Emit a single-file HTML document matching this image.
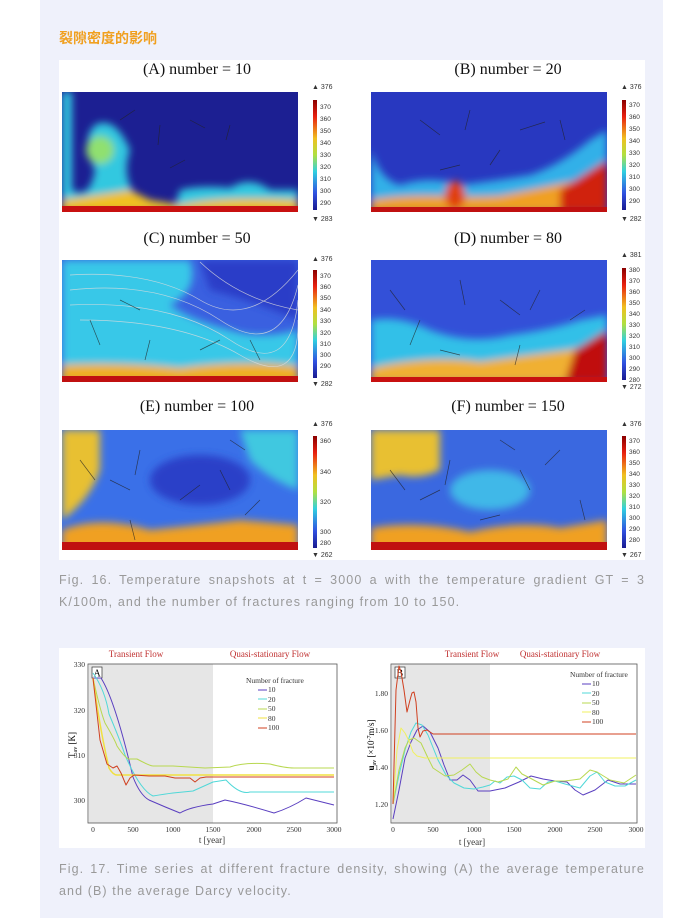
<!DOCTYPE html>
<html><head><meta charset="utf-8"><style>
body{margin:0;width:700px;height:918px;background:#fff;position:relative;overflow:hidden;font-family:"Liberation Sans","Noto Sans CJK SC",sans-serif}
.panel{position:absolute;left:40px;top:0;width:623px;height:918px;background:#eff1fb}
.t{position:absolute;left:59px;top:28px;color:#f0a020;font-size:14px;font-weight:bold}
.cap{position:absolute;left:59px;width:586px;color:#999;font-size:12.5px;letter-spacing:1.1px;line-height:22px;text-align:justify;text-align-last:left}
svg{position:absolute;left:0;top:0}
</style></head><body>
<div class="panel"></div>
<div class="t">裂隙密度的影响</div>
<svg width="700" height="918" font-family="Liberation Serif,serif">
<defs>
<filter id="b" x="-20%" y="-20%" width="140%" height="140%"><feGaussianBlur stdDeviation="4"/></filter>
<linearGradient id="cb" x1="0" y1="0" x2="0" y2="1"><stop offset="0" stop-color="#8a0000"/><stop offset=".15" stop-color="#e82010"/><stop offset=".35" stop-color="#f0c020"/><stop offset=".5" stop-color="#b0e040"/><stop offset=".65" stop-color="#30d0e0"/><stop offset=".85" stop-color="#3050e0"/><stop offset="1" stop-color="#1a1a90"/></linearGradient>
<clipPath id="cA"><rect x="62" y="92" width="236" height="120"/></clipPath>
<clipPath id="cB"><rect x="371" y="92" width="236" height="120"/></clipPath>
<clipPath id="cC"><rect x="62" y="260" width="236" height="122"/></clipPath>
<clipPath id="cD"><rect x="371" y="260" width="236" height="122"/></clipPath>
<clipPath id="cE"><rect x="62" y="430" width="236" height="120"/></clipPath>
<clipPath id="cF"><rect x="371" y="430" width="236" height="120"/></clipPath>
</defs>
<rect x="59" y="60" width="586" height="500" fill="#fff"/>
<rect x="59" y="648" width="586" height="200" fill="#fff"/>
<g font-size="16" text-anchor="middle" fill="#111">
<text x="197" y="74">(A) number = 10</text><text x="508" y="74">(B) number = 20</text>
<text x="197" y="243">(C) number = 50</text><text x="508" y="243">(D) number = 80</text>
<text x="197" y="411">(E) number = 100</text><text x="508" y="411">(F) number = 150</text>
</g>
<g clip-path="url(#cA)"><rect x="62" y="92" width="236" height="120" fill="#1c1f92"/>
<g filter="url(#b)"><path d="M62 92 H72 V190 Q90 200 95 170 Q80 140 95 125 Q115 115 130 150 Q120 180 140 200 L175 205 L180 190 Q200 185 230 188 Q250 175 270 190 L298 190 V212 H62Z" fill="#30c8e0"/>
<path d="M62 200 Q100 195 130 190 L150 200 L180 205 Q220 196 298 200 V212 H62Z" fill="#f0c020"/>
<circle cx="100" cy="150" r="14" fill="#90e070"/></g>
<rect x="62" y="206" width="236" height="6" fill="#c81010"/></g>
<g clip-path="url(#cB)"><rect x="371" y="92" width="236" height="120" fill="#2838c0"/>
<g filter="url(#b)"><path d="M371 150 Q380 180 400 185 Q430 175 460 185 Q500 180 530 175 Q560 165 590 140 L607 130 V212 H371Z" fill="#30b0e8"/>
<path d="M371 200 Q400 195 440 196 Q470 198 500 196 Q540 188 580 180 L607 175 V212 H371Z" fill="#f0a020"/>
<ellipse cx="455" cy="195" rx="10" ry="14" fill="#e04010"/>
<path d="M560 190 L607 160 V212 H560Z" fill="#d02010"/></g>
<rect x="371" y="207" width="236" height="5" fill="#c01010"/></g>
<g clip-path="url(#cC)"><rect x="62" y="260" width="236" height="122" fill="#3a60e0"/>
<g filter="url(#b)"><path d="M62 260 H190 Q200 290 170 305 Q190 320 230 330 Q260 340 298 330 V382 H62Z" fill="#38c8e8"/>
<path d="M200 260 H298 V320 Q250 300 210 290Z" fill="#2a3ec8"/>
<path d="M62 365 Q120 362 180 368 Q240 360 298 366 V382 H62Z" fill="#f0b020"/></g>
<rect x="62" y="376" width="236" height="6" fill="#c01010"/>
<g stroke="#ddd" stroke-width=".7" fill="none" opacity=".8"><path d="M70 275 Q150 270 200 300 T298 270"/><path d="M70 290 Q160 280 220 320 T298 285"/><path d="M70 305 Q170 300 230 340 T298 300"/><path d="M80 320 Q180 320 240 355 T298 320"/><path d="M200 262 Q240 300 298 310"/></g></g>
<g clip-path="url(#cD)"><rect x="371" y="260" width="236" height="122" fill="#3350d8"/>
<g filter="url(#b)"><path d="M371 320 Q400 315 430 330 Q470 345 510 335 Q550 330 580 320 L607 315 V382 H371Z" fill="#30c0e8"/>
<path d="M371 368 Q430 355 480 362 Q530 355 570 350 L607 340 V382 H371Z" fill="#f0b030"/>
<path d="M575 350 L607 330 V382 H565Z" fill="#c01010"/></g>
<rect x="371" y="377" width="236" height="5" fill="#c81010"/></g>
<g clip-path="url(#cE)"><rect x="62" y="430" width="236" height="120" fill="#3a70e8"/>
<g filter="url(#b)"><path d="M62 430 H100 V470 Q90 500 62 520Z" fill="#e8c030"/>
<ellipse cx="200" cy="480" rx="50" ry="25" fill="#2a40c8"/>
<path d="M240 430 H298 V490 Q270 480 250 460Z" fill="#40c8e0"/>
<path d="M62 530 Q100 515 150 530 Q200 525 240 520 L298 525 V550 H62Z" fill="#f0a020"/></g>
<rect x="62" y="542" width="236" height="8" fill="#c01010"/></g>
<g clip-path="url(#cF)"><rect x="371" y="430" width="236" height="120" fill="#3a68e0"/>
<g filter="url(#b)"><path d="M371 430 H440 V470 Q420 480 400 475 L371 480Z" fill="#e8c030"/>
<ellipse cx="490" cy="490" rx="40" ry="20" fill="#40b8e8"/>
<path d="M371 528 Q420 520 470 532 Q520 520 560 528 L607 520 V550 H371Z" fill="#f0a020"/></g>
<rect x="371" y="542" width="236" height="8" fill="#c01010"/></g>
<g stroke="#222" stroke-width=".7" opacity=".7">
<path d="M120 120l15-10M160 125l-2 20M190 120l15 8M230 125l-4 15M185 160l-15 8"/>
<path d="M420 120l20 15M470 110l-5 20M520 130l25-8M560 120l5 20M440 170l20-5M500 150l-10 15"/>
<path d="M90 320l10 25M120 300l20 10M150 340l-5 20M200 350l20-10M250 340l10 20"/>
<path d="M390 290l15 20M420 320l-10 25M460 280l5 25M500 300l20 15M540 290l-10 20M570 320l15-10M440 350l20 5M520 345l-5 20"/>
<path d="M80 460l15 20M110 480l20 10M140 450l-5 25M180 500l20-15M220 470l10 20M260 500l-15 15M130 520l5 20M230 440l15 10"/>
<path d="M390 470l15 20M420 500l20-10M450 460l-5 25M480 520l20-5M520 470l10 20M560 450l-15 15M580 500l5 20M500 440l15 10"/>
</g>
<g font-family="Liberation Sans,sans-serif" font-size="7" fill="#333">
<rect x="313" y="100" width="4" height="110" fill="url(#cb)"/><text x="312" y="89">▲ 376</text><text x="312" y="221">▼ 283</text>
<rect x="622" y="100" width="4" height="110" fill="url(#cb)"/><text x="621" y="89">▲ 376</text><text x="621" y="221">▼ 282</text>
<rect x="313" y="270" width="4" height="108" fill="url(#cb)"/><text x="312" y="261">▲ 376</text><text x="312" y="386">▼ 282</text>
<rect x="622" y="268" width="4" height="112" fill="url(#cb)"/><text x="621" y="257">▲ 381</text><text x="621" y="389">▼ 272</text>
<rect x="313" y="436" width="4" height="112" fill="url(#cb)"/><text x="312" y="426">▲ 376</text><text x="312" y="557">▼ 262</text>
<rect x="622" y="436" width="4" height="112" fill="url(#cb)"/><text x="621" y="426">▲ 376</text><text x="621" y="557">▼ 267</text>
<g font-size="6.5"><text x="320" y="109">370</text><text x="320" y="121">360</text><text x="320" y="133">350</text><text x="320" y="145">340</text><text x="320" y="157">330</text><text x="320" y="169">320</text><text x="320" y="181">310</text><text x="320" y="193">300</text><text x="320" y="205">290</text>
<text x="629" y="107">370</text><text x="629" y="119">360</text><text x="629" y="131">350</text><text x="629" y="143">340</text><text x="629" y="155">330</text><text x="629" y="167">320</text><text x="629" y="179">310</text><text x="629" y="191">300</text><text x="629" y="203">290</text>
<text x="320" y="278">370</text><text x="320" y="289">360</text><text x="320" y="300">350</text><text x="320" y="312">340</text><text x="320" y="323">330</text><text x="320" y="335">320</text><text x="320" y="346">310</text><text x="320" y="357">300</text><text x="320" y="368">290</text>
<text x="629" y="272">380</text><text x="629" y="283">370</text><text x="629" y="294">360</text><text x="629" y="305">350</text><text x="629" y="316">340</text><text x="629" y="327">330</text><text x="629" y="338">320</text><text x="629" y="349">310</text><text x="629" y="360">300</text><text x="629" y="371">290</text><text x="629" y="382">280</text>
<text x="320" y="443">360</text><text x="320" y="474">340</text><text x="320" y="504">320</text><text x="320" y="534">300</text><text x="320" y="545">280</text>
<text x="629" y="443">370</text><text x="629" y="454">360</text><text x="629" y="465">350</text><text x="629" y="476">340</text><text x="629" y="487">330</text><text x="629" y="498">320</text><text x="629" y="509">310</text><text x="629" y="520">300</text><text x="629" y="531">290</text><text x="629" y="542">280</text></g>
</g>
<!-- Chart A -->
<rect x="89" y="664" width="124" height="159" fill="#e6e6e6"/>
<rect x="88" y="664" width="249" height="159" fill="none" stroke="#555" stroke-width=".8"/>
<g font-size="9" fill="#c03030" text-anchor="middle"><text x="136" y="657">Transient Flow</text><text x="270" y="657">Quasi-stationary Flow</text>
<text x="472" y="657">Transient Flow</text><text x="560" y="657">Quasi-stationary Flow</text></g>
<rect x="92" y="667" width="10" height="11" fill="#fff" stroke="#333" stroke-width=".7"/><text x="93.5" y="676.5" font-size="10">A</text>
<g font-size="7.5" fill="#333" text-anchor="end"><text x="85" y="667">330</text><text x="85" y="713">320</text><text x="85" y="758">310</text><text x="85" y="803">300</text></g>
<g font-size="7.5" fill="#333" text-anchor="middle"><text x="93" y="832">0</text><text x="133" y="832">500</text><text x="173" y="832">1000</text><text x="213" y="832">1500</text><text x="254" y="832">2000</text><text x="294" y="832">2500</text><text x="334" y="832">3000</text>
<text x="212" y="843" font-size="9">t [year]</text><text x="472" y="845" font-size="9">t [year]</text></g>
<text x="75" y="745" font-size="9" transform="rotate(-90 75 745)" text-anchor="middle">T<tspan font-size="6" dy="2">av</tspan><tspan dy="-2"> [K]</tspan></text>
<g fill="none" stroke-width="1" stroke-linejoin="round">
<path stroke="#5a3fc0" d="M93 678 L101 678 Q115 700 133 777 Q140 795 149 800 Q165 807 180 813 Q190 807 213 804 L225 800 Q245 804 274 813 Q290 808 306 798 L334 805"/>
<path stroke="#50d8d8" d="M93 673 Q105 690 109 714 Q120 740 125 755 Q140 790 153 796 Q165 794 173 793 L193 791 L213 782 L226 780 Q240 795 250 792 L334 792"/>
<path stroke="#b8d850" d="M93 678 Q100 710 105 723 Q115 740 117 746 Q125 758 129 759 L137 759 Q150 766 153 766 L173 766 L205 768 L230 767 Q245 762 270 764 Q285 768 294 768 L334 768"/>
<path stroke="#f0e040" stroke-width="1.5" d="M93 678 Q100 730 109 768 Q113 775 117 775 L334 775"/>
<polyline stroke="#d04020" points="93,678 100,740 107,764 113,768 117,766 121,773 126,785 130,778 134,775 149,776 165,776 175,778 190,778 195,782 200,778 206,777 334,777"/>
</g>
<g font-size="7.5" fill="#333"><text x="246" y="683">Number of fracture</text>
<text x="268" y="692">10</text><text x="268" y="702">20</text><text x="268" y="711">50</text><text x="268" y="721">80</text><text x="268" y="730">100</text></g>
<g stroke-width="1"><path d="M258 690h9" stroke="#5a3fc0"/><path d="M258 699h9" stroke="#50d8d8"/><path d="M258 709h9" stroke="#b8d850"/><path d="M258 718h9" stroke="#f0e040"/><path d="M258 728h9" stroke="#d04020"/></g>
<!-- Chart B -->
<rect x="392" y="664" width="98" height="159" fill="#e6e6e6"/>
<rect x="391" y="664" width="246" height="159" fill="none" stroke="#555" stroke-width=".8"/>
<rect x="395" y="667" width="10" height="11" fill="#fff" stroke="#333" stroke-width=".7"/><text x="396.5" y="676.5" font-size="10">B</text>
<g font-size="7.5" fill="#333" text-anchor="end"><text x="388" y="696">1.80</text><text x="388" y="733">1.60</text><text x="388" y="770">1.40</text><text x="388" y="807">1.20</text></g>
<g font-size="7.5" fill="#333" text-anchor="middle"><text x="393" y="832">0</text><text x="433" y="832">500</text><text x="474" y="832">1000</text><text x="514" y="832">1500</text><text x="555" y="832">2000</text><text x="595" y="832">2500</text><text x="636" y="832">3000</text></g>
<text x="374" y="745" font-size="9" transform="rotate(-90 374 745)" text-anchor="middle"><tspan font-weight="bold">u</tspan><tspan font-size="6" dy="2">av</tspan><tspan dy="-2"> [×10</tspan><tspan font-size="6" dy="-3">-7</tspan><tspan dy="3">m/s]</tspan></text>
<g fill="none" stroke-width="1" stroke-linejoin="round">
<polyline stroke="#5a3fc0" points="393,819 399,790 405,758 411,742 417,730 423,726 430,732 438,748 444,765 450,780 457,780 463,775 470,780 478,791 490,791 505,788 519,782 531,776 543,779 555,781 567,782 575,790 583,795 595,790 608,780 620,784 636,784"/>
<polyline stroke="#50d8d8" points="393,804 399,775 405,750 411,732 416,723 422,725 428,735 438,760 446,775 454,783 464,788 474,789 483,787 490,785 495,781 500,783 507,777 514,776 522,780 530,788 540,789 548,782 555,781 565,784 580,788 590,776 597,772 605,782 615,786 625,786 636,780"/>
<polyline stroke="#b8d850" points="393,804 399,770 405,748 409,740 414,738 421,743 428,758 433,768 445,776 454,775 462,770 470,764 476,772 482,777 490,780 498,782 508,779 516,767 522,774 530,778 543,785 555,781 565,781 580,779 590,770 597,772 610,780 624,783 636,775"/>
<polyline stroke="#f0f060" points="393,804 397,750 401,728 405,733 409,741 413,752 417,756 425,758 433,758 636,758"/>
<polyline stroke="#d04020" points="393,804 396,690 399,666 401,672 404,690 407,712 410,700 412,693 414,692 416,702 418,728 420,737 423,731 427,730 433,734 636,734"/>
</g>
<g font-size="7.5" fill="#333"><text x="570" y="677">Number of fracture</text>
<text x="592" y="686">10</text><text x="592" y="696">20</text><text x="592" y="705">50</text><text x="592" y="715">80</text><text x="592" y="724">100</text></g>
<g stroke-width="1"><path d="M582 684h9" stroke="#5a3fc0"/><path d="M582 693h9" stroke="#50d8d8"/><path d="M582 703h9" stroke="#b8d850"/><path d="M582 712h9" stroke="#f0f060"/><path d="M582 722h9" stroke="#d04020"/></g>
</svg>
<div class="cap" style="top:569px">Fig. 16. Temperature snapshots at t = 3000 a with the temperature gradient GT = 3 K/100m, and the number of fractures ranging from 10 to 150.</div>
<div class="cap" style="top:858px">Fig. 17. Time series at different fracture density, showing (A) the average temperature and (B) the average Darcy velocity.</div>
</body></html>
